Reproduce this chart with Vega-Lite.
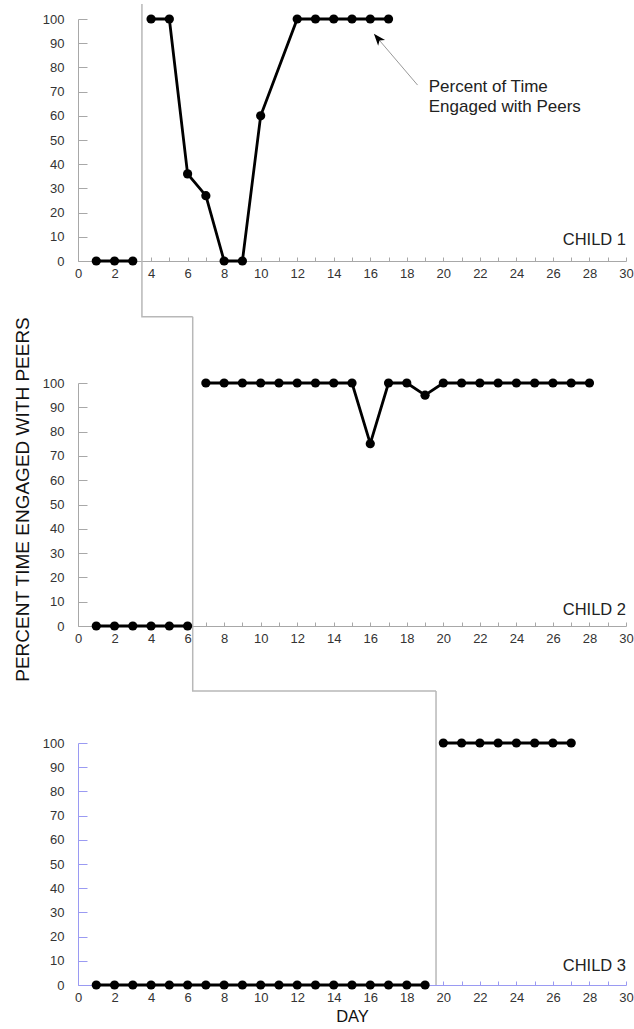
{
  "$schema": "https://vega.github.io/schema/vega-lite/v6.json",
  "padding": {"left": 13, "top": 0, "right": 5, "bottom": 5},
  "background": "white",
  "bounds": "flush",
  "spacing": 122,
  "datasets": {
    "obs": [
      {"child": "CHILD 1", "phase": "baseline", "day": 1, "pct": 0},
      {"child": "CHILD 1", "phase": "baseline", "day": 2, "pct": 0},
      {"child": "CHILD 1", "phase": "baseline", "day": 3, "pct": 0},
      {"child": "CHILD 1", "phase": "intervention", "day": 4, "pct": 100},
      {"child": "CHILD 1", "phase": "intervention", "day": 5, "pct": 100},
      {"child": "CHILD 1", "phase": "intervention", "day": 6, "pct": 36},
      {"child": "CHILD 1", "phase": "intervention", "day": 7, "pct": 27},
      {"child": "CHILD 1", "phase": "intervention", "day": 8, "pct": 0},
      {"child": "CHILD 1", "phase": "intervention", "day": 9, "pct": 0},
      {"child": "CHILD 1", "phase": "intervention", "day": 10, "pct": 60},
      {"child": "CHILD 1", "phase": "intervention", "day": 12, "pct": 100},
      {"child": "CHILD 1", "phase": "intervention", "day": 13, "pct": 100},
      {"child": "CHILD 1", "phase": "intervention", "day": 14, "pct": 100},
      {"child": "CHILD 1", "phase": "intervention", "day": 15, "pct": 100},
      {"child": "CHILD 1", "phase": "intervention", "day": 16, "pct": 100},
      {"child": "CHILD 1", "phase": "intervention", "day": 17, "pct": 100},
      {"child": "CHILD 2", "phase": "baseline", "day": 1, "pct": 0},
      {"child": "CHILD 2", "phase": "baseline", "day": 2, "pct": 0},
      {"child": "CHILD 2", "phase": "baseline", "day": 3, "pct": 0},
      {"child": "CHILD 2", "phase": "baseline", "day": 4, "pct": 0},
      {"child": "CHILD 2", "phase": "baseline", "day": 5, "pct": 0},
      {"child": "CHILD 2", "phase": "baseline", "day": 6, "pct": 0},
      {"child": "CHILD 2", "phase": "intervention", "day": 7, "pct": 100},
      {"child": "CHILD 2", "phase": "intervention", "day": 8, "pct": 100},
      {"child": "CHILD 2", "phase": "intervention", "day": 9, "pct": 100},
      {"child": "CHILD 2", "phase": "intervention", "day": 10, "pct": 100},
      {"child": "CHILD 2", "phase": "intervention", "day": 11, "pct": 100},
      {"child": "CHILD 2", "phase": "intervention", "day": 12, "pct": 100},
      {"child": "CHILD 2", "phase": "intervention", "day": 13, "pct": 100},
      {"child": "CHILD 2", "phase": "intervention", "day": 14, "pct": 100},
      {"child": "CHILD 2", "phase": "intervention", "day": 15, "pct": 100},
      {"child": "CHILD 2", "phase": "intervention", "day": 16, "pct": 75},
      {"child": "CHILD 2", "phase": "intervention", "day": 17, "pct": 100},
      {"child": "CHILD 2", "phase": "intervention", "day": 18, "pct": 100},
      {"child": "CHILD 2", "phase": "intervention", "day": 19, "pct": 95},
      {"child": "CHILD 2", "phase": "intervention", "day": 20, "pct": 100},
      {"child": "CHILD 2", "phase": "intervention", "day": 21, "pct": 100},
      {"child": "CHILD 2", "phase": "intervention", "day": 22, "pct": 100},
      {"child": "CHILD 2", "phase": "intervention", "day": 23, "pct": 100},
      {"child": "CHILD 2", "phase": "intervention", "day": 24, "pct": 100},
      {"child": "CHILD 2", "phase": "intervention", "day": 25, "pct": 100},
      {"child": "CHILD 2", "phase": "intervention", "day": 26, "pct": 100},
      {"child": "CHILD 2", "phase": "intervention", "day": 27, "pct": 100},
      {"child": "CHILD 2", "phase": "intervention", "day": 28, "pct": 100},
      {"child": "CHILD 3", "phase": "baseline", "day": 1, "pct": 0},
      {"child": "CHILD 3", "phase": "baseline", "day": 2, "pct": 0},
      {"child": "CHILD 3", "phase": "baseline", "day": 3, "pct": 0},
      {"child": "CHILD 3", "phase": "baseline", "day": 4, "pct": 0},
      {"child": "CHILD 3", "phase": "baseline", "day": 5, "pct": 0},
      {"child": "CHILD 3", "phase": "baseline", "day": 6, "pct": 0},
      {"child": "CHILD 3", "phase": "baseline", "day": 7, "pct": 0},
      {"child": "CHILD 3", "phase": "baseline", "day": 8, "pct": 0},
      {"child": "CHILD 3", "phase": "baseline", "day": 9, "pct": 0},
      {"child": "CHILD 3", "phase": "baseline", "day": 10, "pct": 0},
      {"child": "CHILD 3", "phase": "baseline", "day": 11, "pct": 0},
      {"child": "CHILD 3", "phase": "baseline", "day": 12, "pct": 0},
      {"child": "CHILD 3", "phase": "baseline", "day": 13, "pct": 0},
      {"child": "CHILD 3", "phase": "baseline", "day": 14, "pct": 0},
      {"child": "CHILD 3", "phase": "baseline", "day": 15, "pct": 0},
      {"child": "CHILD 3", "phase": "baseline", "day": 16, "pct": 0},
      {"child": "CHILD 3", "phase": "baseline", "day": 17, "pct": 0},
      {"child": "CHILD 3", "phase": "baseline", "day": 18, "pct": 0},
      {"child": "CHILD 3", "phase": "baseline", "day": 19, "pct": 0},
      {"child": "CHILD 3", "phase": "intervention", "day": 20, "pct": 100},
      {"child": "CHILD 3", "phase": "intervention", "day": 21, "pct": 100},
      {"child": "CHILD 3", "phase": "intervention", "day": 22, "pct": 100},
      {"child": "CHILD 3", "phase": "intervention", "day": 23, "pct": 100},
      {"child": "CHILD 3", "phase": "intervention", "day": 24, "pct": 100},
      {"child": "CHILD 3", "phase": "intervention", "day": 25, "pct": 100},
      {"child": "CHILD 3", "phase": "intervention", "day": 26, "pct": 100},
      {"child": "CHILD 3", "phase": "intervention", "day": 27, "pct": 100}
    ],
    "panelLabel": [
      {"child": "CHILD 1", "day": 30, "pct": 0},
      {"child": "CHILD 2", "day": 30, "pct": 0},
      {"child": "CHILD 3", "day": 30, "pct": 0}
    ],
    "phaseLine": [
      {"child": "CHILD 1", "seq": 1, "day": 3.5, "pct": 106.2},
      {"child": "CHILD 1", "seq": 2, "day": 3.5, "pct": -23.0},
      {"child": "CHILD 1", "seq": 3, "day": 6.28, "pct": -23.0},
      {"child": "CHILD 2", "seq": 1, "day": 6.28, "pct": 127.3},
      {"child": "CHILD 2", "seq": 2, "day": 6.28, "pct": -26.7},
      {"child": "CHILD 2", "seq": 3, "day": 19.6, "pct": -26.7},
      {"child": "CHILD 3", "seq": 1, "day": 19.6, "pct": 121.5},
      {"child": "CHILD 3", "seq": 2, "day": 19.6, "pct": 0}
    ],
    "arrow": [
      {"day": 18.59, "pct": 72.7, "day2": 16.41, "pct2": 92.0}
    ],
    "arrowHead": [
      {"day": 16.41, "pct": 92.0}
    ],
    "note": [
      {"day": 19.2, "pct": 69.8, "label": "Percent of Time\nEngaged with Peers"}
    ]
  },
  "vconcat": [
    {
      "width": 548,
      "height": 242,
      "encoding": {
        "x": {"field": "day", "type": "quantitative", "scale": {"domain": [0, 30], "nice": false, "zero": false},
          "axis": {"title": null, "labelOverlap": false, "tickCount": 40, "values": [0,1,2,3,4,5,6,7,8,9,10,11,12,13,14,15,16,17,18,19,20,21,22,23,24,25,26,27,28,29,30], "labelExpr": "datum.value % 2 === 0 ? datum.label : ''"}},
        "y": {"field": "pct", "type": "quantitative", "scale": {"domain": [0, 100], "nice": false},
          "axis": {"title": null, "labelOverlap": false, "tickCount": 20, "values": [0,10,20,30,40,50,60,70,80,90,100]}}
      },
      "layer": [
        {
          "data": {"name": "phaseLine"},
          "transform": [{"filter": "datum.child === 'CHILD 1'"}],
          "mark": {"type": "line", "color": "#b8b8b8", "strokeWidth": 1.5},
          "encoding": {"order": {"field": "seq"}}
        },
        {
          "data": {"name": "arrow"},
          "mark": {"type": "rule", "color": "#999999", "strokeWidth": 1},
          "encoding": {
            "x2": {"field": "day2"},
            "y2": {"field": "pct2"}
          }
        },
        {
          "data": {"name": "arrowHead"},
          "mark": {"type": "point", "shape": "M0,-1L0.75,1L0,0.45L-0.75,1Z", "filled": true, "color": "black", "opacity": 1, "size": 144, "angle": 320},
          "encoding": {}
        },
        {
          "data": {"name": "note"},
          "mark": {"type": "text", "align": "left", "baseline": "alphabetic", "fontSize": 17, "lineHeight": 20, "lineBreak": "\n", "color": "#222222", "font": "Liberation Sans"},
          "encoding": {"text": {"field": "label"}}
        },
        {
          "data": {"name": "obs"},
          "transform": [{"filter": "datum.child === 'CHILD 1'"}],
          "mark": {"type": "line", "color": "black", "strokeWidth": 2.8},
          "encoding": {"detail": {"field": "phase"}}
        },
        {
          "data": {"name": "obs"},
          "transform": [{"filter": "datum.child === 'CHILD 1'"}],
          "mark": {"type": "point", "filled": true, "color": "black", "opacity": 1, "size": 85},
          "encoding": {}
        },
        {
          "data": {"name": "panelLabel"},
          "transform": [{"filter": "datum.child === 'CHILD 1'"}],
          "mark": {"type": "text", "align": "right", "baseline": "alphabetic", "fontSize": 16.5, "dy": -16, "color": "#222222", "font": "Liberation Sans"},
          "encoding": {"text": {"field": "child"}}
        }
      ]
    },
    {
      "bounds": "flush",
      "spacing": 117,
      "vconcat": [
        {
          "width": 548,
          "height": 243,
          "encoding": {
            "x": {"field": "day", "type": "quantitative", "scale": {"domain": [0, 30], "nice": false, "zero": false},
              "axis": {"title": null, "labelOverlap": false, "tickCount": 40, "values": [0,1,2,3,4,5,6,7,8,9,10,11,12,13,14,15,16,17,18,19,20,21,22,23,24,25,26,27,28,29,30], "labelExpr": "datum.value % 2 === 0 ? datum.label : ''"}},
            "y": {"field": "pct", "type": "quantitative", "scale": {"domain": [0, 100], "nice": false},
              "axis": {"title": "PERCENT TIME ENGAGED WITH PEERS", "titleFontSize": 19, "titlePadding": 10, "titleY": 116, "labelOverlap": false, "tickCount": 20, "values": [0,10,20,30,40,50,60,70,80,90,100]}}
          },
          "layer": [
            {
              "data": {"name": "phaseLine"},
              "transform": [{"filter": "datum.child === 'CHILD 2'"}],
              "mark": {"type": "line", "color": "#b8b8b8", "strokeWidth": 1.5},
              "encoding": {"order": {"field": "seq"}}
            },
            {
              "data": {"name": "obs"},
              "transform": [{"filter": "datum.child === 'CHILD 2'"}],
              "mark": {"type": "line", "color": "black", "strokeWidth": 2.8},
              "encoding": {"detail": {"field": "phase"}}
            },
            {
              "data": {"name": "obs"},
              "transform": [{"filter": "datum.child === 'CHILD 2'"}],
              "mark": {"type": "point", "filled": true, "color": "black", "opacity": 1, "size": 85},
              "encoding": {}
            },
            {
              "data": {"name": "panelLabel"},
              "transform": [{"filter": "datum.child === 'CHILD 2'"}],
              "mark": {"type": "text", "align": "right", "baseline": "alphabetic", "fontSize": 16.5, "dy": -11, "color": "#222222", "font": "Liberation Sans"},
              "encoding": {"text": {"field": "child"}}
            }
          ]
        },
        {
          "width": 548,
          "height": 242,
          "encoding": {
            "x": {"field": "day", "type": "quantitative", "scale": {"domain": [0, 30], "nice": false, "zero": false},
              "axis": {"title": "DAY", "titleFontSize": 16.5, "titlePadding": 4, "domainColor": "#9a9af2", "tickColor": "#9a9af2", "labelOverlap": false, "tickCount": 40, "values": [0,1,2,3,4,5,6,7,8,9,10,11,12,13,14,15,16,17,18,19,20,21,22,23,24,25,26,27,28,29,30], "labelExpr": "datum.value % 2 === 0 ? datum.label : ''"}},
            "y": {"field": "pct", "type": "quantitative", "scale": {"domain": [0, 100], "nice": false},
              "axis": {"title": null, "domainColor": "#9a9af2", "tickColor": "#9a9af2", "labelOverlap": false, "tickCount": 20, "values": [0,10,20,30,40,50,60,70,80,90,100]}}
          },
          "layer": [
            {
              "data": {"name": "phaseLine"},
              "transform": [{"filter": "datum.child === 'CHILD 3'"}],
              "mark": {"type": "line", "color": "#b8b8b8", "strokeWidth": 1.5},
              "encoding": {"order": {"field": "seq"}}
            },
            {
              "data": {"name": "obs"},
              "transform": [{"filter": "datum.child === 'CHILD 3'"}],
              "mark": {"type": "line", "color": "black", "strokeWidth": 2.8},
              "encoding": {"detail": {"field": "phase"}}
            },
            {
              "data": {"name": "obs"},
              "transform": [{"filter": "datum.child === 'CHILD 3'"}],
              "mark": {"type": "point", "filled": true, "color": "black", "opacity": 1, "size": 85},
              "encoding": {}
            },
            {
              "data": {"name": "panelLabel"},
              "transform": [{"filter": "datum.child === 'CHILD 3'"}],
              "mark": {"type": "text", "align": "right", "baseline": "alphabetic", "fontSize": 16.5, "dy": -14, "color": "#222222", "font": "Liberation Sans"},
              "encoding": {"text": {"field": "child"}}
            }
          ]
        }
      ]
    }
  ],
  "config": {
    "view": {"stroke": null},
    "font": "Liberation Sans",
    "axis": {
      "grid": false,
      "labelFont": "Liberation Sans",
      "labelFontSize": 13,
      "labelColor": "#333333",
      "domainColor": "#a8a8a8",
      "tickColor": "#a8a8a8",
      "domainWidth": 1,
      "tickWidth": 1,
      "titleFont": "Liberation Sans",
      "titleFontWeight": "normal",
      "titleColor": "#111111",
      "labelFlush": false,
      "labelOverlap": false
    },
    "axisX": {"tickSize": -4, "labelPadding": 10},
    "axisY": {"tickSize": -9, "labelPadding": 23}
  }
}
